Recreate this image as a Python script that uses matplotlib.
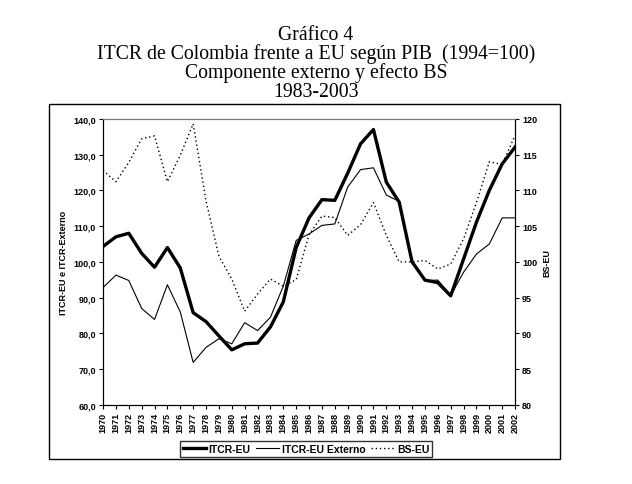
import numpy as np
import matplotlib
matplotlib.use("Agg")
import matplotlib.pyplot as plt
from matplotlib.patches import Rectangle

# data
years = list(range(1970, 2003))
itcr_eu = [104.3, 107.0, 108.0, 102.4, 98.5, 104.0, 98.3, 85.8, 83.3, 79.3,
           75.4, 77.1, 77.3, 81.8, 88.8, 104.0, 112.3, 117.4, 117.2, 124.8,
           133.0, 137.0, 122.3, 116.7, 100.0, 94.9, 94.2, 90.5, 100.8, 111.1,
           120.0, 127.4, 132.1]
itcr_externo = [92.8, 96.3, 94.8, 87.0, 83.9, 93.6, 86.0, 71.9, 76.1, 78.5,
                77.1, 83.0, 80.8, 84.5, 93.2, 106.0, 107.8, 110.2, 110.6, 120.9,
                125.8, 126.3, 118.7, 116.9, 99.9, 94.8, 94.9, 90.6, 97.1, 102.2,
                105.0, 112.3, 112.3]
bs_eu = [112.8, 111.2, 113.9, 117.2, 117.6, 111.2, 114.9, 119.3, 108.5, 100.8,
         97.6, 93.1, 95.5, 97.6, 96.6, 97.5, 103.8, 106.4, 106.2, 103.7,
         105.2, 108.3, 103.7, 100.0, 100.0, 100.2, 99.0, 99.7, 103.2, 108.3,
         114.0, 113.6, 117.7]

left_ticks = [60, 70, 80, 90, 100, 110, 120, 130, 140]
right_ticks = [80, 85, 90, 95, 100, 105, 110, 115, 120]

plt.rcParams['font.family'] = 'Liberation Sans'

fig = plt.figure(figsize=(6.32, 4.85), dpi=100)
ax = fig.add_axes([0.163, 0.163, 0.652, 0.590])
ax2 = ax.twinx()

l1, = ax.plot(years, itcr_eu, color='black', lw=2.4, label='ITCR-EU')
l2, = ax.plot(years, itcr_externo, color='black', lw=0.8, label='ITCR-EU Externo')
l3, = ax2.plot(years, bs_eu, color='black', lw=1.0, linestyle=(0, (1, 2)), label='BS-EU')

ax.set_xlim(1970, 2002)
ax.set_ylim(60, 140)
ax2.set_ylim(80, 120)
ax.set_xticks(years)
ax.set_xticklabels([str(y) for y in years], rotation=90, fontsize=6.5, fontweight='bold')
ax.set_yticks(left_ticks)
ax.set_yticklabels([f"{v:.1f}".replace('.', ',') for v in left_ticks], fontsize=6.5, fontweight='bold')
ax2.set_yticks(right_ticks)
ax2.set_yticklabels([str(v) for v in right_ticks], fontsize=6.5, fontweight='bold')

for a in (ax, ax2):
    a.tick_params(length=3, width=0.8, pad=2)
    a.spines['top'].set_color('#777777')
    a.spines['top'].set_linewidth(0.8)

ax.set_ylabel('ITCR-EU e ITCR-Externo', fontsize=6.5, fontweight='bold', labelpad=4)
ax2.set_ylabel('BS-EU', fontsize=6.5, fontweight='bold', labelpad=4)

fig.text(0.5, 0.869, 'Gráfico 4\nITCR de Colombia frente a EU según PIB  (1994=100)\n'
         'Componente externo y efecto BS\n1983-2003',
         ha='center', va='center', fontsize=14.2, family='Liberation Serif', linespacing=0.96)

fig.legend(handles=[l1, l2, l3], loc='center', bbox_to_anchor=(0.484, 0.072),
           ncol=3, frameon=True, fancybox=False, edgecolor='black',
           handlelength=2.2, handletextpad=0.3, columnspacing=0.5, borderpad=0.25,
           borderaxespad=0, prop={'weight': 'bold', 'size': 7.5})

fig.patches.append(Rectangle((0.0775, 0.0515), 0.808, 0.732, transform=fig.transFigure,
                             fill=False, edgecolor='black', lw=1.0))

fig.savefig('out.png', dpi=100)
